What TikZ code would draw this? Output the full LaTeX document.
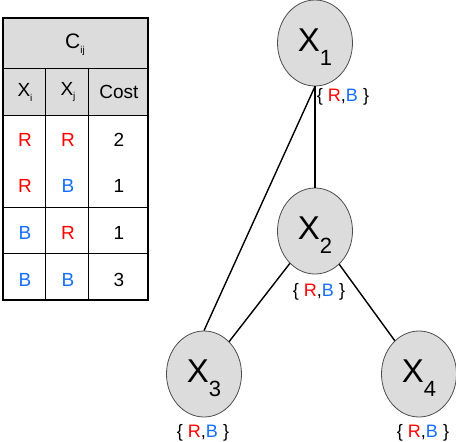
\documentclass[tikz,border=0pt]{standalone}
\usepackage{fontspec}
\setmainfont{Liberation Sans}
\usetikzlibrary{shapes.geometric}
\definecolor{valred}{RGB}{255,0,0}
\definecolor{valblue}{RGB}{20,110,255}
\definecolor{cellgray}{RGB}{220,220,220}
\newcommand{\varname}[1]{\rule{0pt}{31pt}{\fontsize{33}{33}\selectfont X}\raisebox{-14pt}{\fontsize{22}{22}\selectfont #1}}
\newcommand{\valset}{\{ \textcolor{valred}{R},\textcolor{valblue}{B} \}}
\newcommand{\cellsub}[2]{#1\raisebox{-5pt}{\fontsize{10}{10}\selectfont #2}}
\newcommand{\rv}{\textcolor{valred}{R}}
\newcommand{\bv}{\textcolor{valblue}{B}}
\begin{document}
\begin{tikzpicture}[
    x=1pt, y=-1pt,
    cell/.style={inner sep=0pt, font=\fontsize{19}{19}\selectfont},
    var/.style={ellipse, draw=gray!60!black, fill=cellgray, line width=0.8pt,
                minimum width=75pt, minimum height=86pt, inner sep=0pt},
    dom/.style={inner sep=0pt, font=\fontsize{18}{18}\selectfont},
    edge/.style={line width=1.4pt},
  ]
  \useasboundingbox (0,0) rectangle (456,442);
  % The cost table
  \fill[cellgray] (3,18) rectangle (148,115);
  \draw[line width=1pt] (3,68) -- (148,68) (3,115) -- (148,115)
    (3,207) -- (148,207) (3,253) -- (148,253)
    (45,68) -- (45,300) (88,68) -- (88,300);
  \draw[line width=2.5pt] (3,18) rectangle (148,300);
  \node[cell, font=\fontsize{21}{21}\selectfont] (cij) at (75,45) {\cellsub{C}{ij}};
  \node[cell] (hxi) at (25,92) {\cellsub{X}{i}};
  \node[cell] (hxj) at (68,92) {\cellsub{X}{j}};
  \node[cell] (hcost) at (119,92) {Cost};
  % Rows: value pairs and their cost
  \node[cell] (rra) at (25,140) {\rv};
  \node[cell] (rrb) at (68,140) {\rv};
  \node[cell] (rrc) at (119,140) {2};
  \node[cell] (rba) at (25,186) {\rv};
  \node[cell] (rbb) at (68,186) {\bv};
  \node[cell] (rbc) at (119,186) {1};
  \node[cell] (bra) at (25,233) {\bv};
  \node[cell] (brb) at (68,233) {\rv};
  \node[cell] (brc) at (119,233) {1};
  \node[cell] (bba) at (25,280) {\bv};
  \node[cell] (bbb) at (68,280) {\bv};
  \node[cell] (bbc) at (119,280) {3};
  % The variables
  \node[var] (x1) at (315,43) {\varname{1}};
  \node[var] (x2) at (315,231) {\varname{2}};
  \node[var] (x3) at (204,374) {\varname{3}};
  \node[var] (x4) at (419,374) {\varname{4}};
  % Their domains
  \node[dom] (d1) at (343,97) {\valset};
  \node[dom] (d2) at (319,292) {\valset};
  \node[dom] (d3) at (203,433) {\valset};
  \node[dom] (d4) at (423,433) {\valset};
  % Constraints
  \draw[edge] (x1.south) -- (x2.north);
  \draw[edge] (x1.south) -- (x3.north);
  \draw[edge] (x2) -- (x3);
  \draw[edge] (x2) -- (x4);
\end{tikzpicture}
\end{document}
